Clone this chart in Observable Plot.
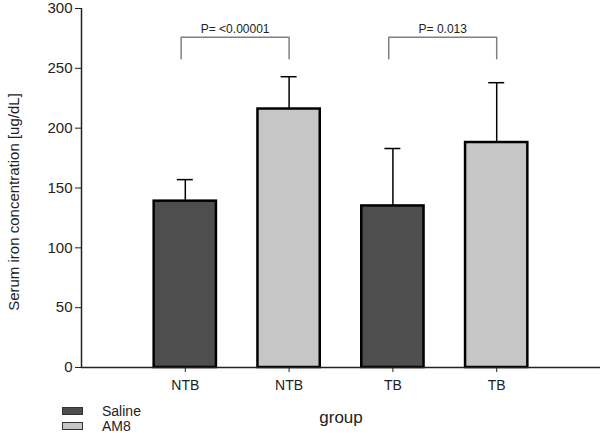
<!DOCTYPE html>
<html><head><meta charset="utf-8">
<script src="https://cdn.jsdelivr.net/npm/d3@7"></script>
<script src="https://cdn.jsdelivr.net/npm/@observablehq/plot@0.6"></script>
<style>
body{margin:0;background:#fff;font-family:"Liberation Sans",Arial,sans-serif}
#wrap{position:relative;width:600px;height:433px;overflow:hidden}
.lg{position:absolute;left:62px;display:flex;align-items:center;font-size:14px;color:#222;line-height:14px;height:14px}
.sw{width:19px;height:6px;border:1px solid #333;margin-right:19px}
</style></head><body><div id="wrap"></div>
<script>
const groups = ["NTB", "NTB", "TB", "TB"];
const treatments = ["Saline", "AM8", "Saline", "AM8"];
const means = [139, 216, 135, 188];
const upper = [157, 243, 183, 238];
const yTicks = [0, 50, 100, 150, 200, 250, 300];
const compFrom = [1, 3];
const compTo = [2, 4];
const compLabels = ["P= <0.00001", "P= 0.013"];
const bracketTop = [276, 276];
const bracketBottom = [258, 258];
const legendNames = ["Saline", "AM8"];
const colors = {Saline: "#4e4e4e", AM8: "#c6c6c6"};

const data = groups.map((g, i) => ({pos: i + 1, group: g, treatment: treatments[i], mean: means[i], upper: upper[i]}));
const bracketPts = [];
compFrom.forEach((f, i) => {
  const a = f - 0.04, b = compTo[i];
  bracketPts.push({c: i, x: a, y: bracketBottom[i]}, {c: i, x: a, y: bracketTop[i]},
                  {c: i, x: b, y: bracketTop[i]}, {c: i, x: b, y: bracketBottom[i]});
});
const comps = compLabels.map((l, i) => ({label: l, x: (compFrom[i] - 0.04 + compTo[i]) / 2, y: bracketTop[i] + 7}));

const chart = Plot.plot({
  width: 600, height: 433,
  marginLeft: 81, marginRight: 0, marginTop: 8, marginBottom: 66,
  style: {fontFamily: "Liberation Sans, Arial, sans-serif", color: "#222", background: "white"},
  x: {domain: [0, 5]},
  y: {domain: [0, 300]},
  marks: [
    Plot.rect(data, {x1: d => d.pos - 0.3, x2: d => d.pos + 0.3, y1: 0, y2: "mean",
      fill: d => colors[d.treatment], stroke: "black", strokeWidth: 2.5}),
    Plot.ruleX(data, {x: "pos", y1: "mean", y2: "upper", stroke: "black", strokeWidth: 1.5}),
    Plot.ruleY(data, {y: "upper", x1: d => d.pos - 0.077, x2: d => d.pos + 0.077, stroke: "black", strokeWidth: 1.5}),
    Plot.line(bracketPts, {x: "x", y: "y", z: "c", stroke: "#808080", strokeWidth: 1.5, strokeLinejoin: "round"}),
    Plot.text(comps, {x: "x", y: "y", text: "label", fontSize: 12, fill: "#222"}),
    Plot.ruleY([0], {stroke: "#222", strokeWidth: 1.5}),
    Plot.ruleX([0], {y1: 0, y2: 300, stroke: "#222", strokeWidth: 1.5}),
    Plot.axisY({ticks: yTicks, tickSize: 6, tickPadding: 3, label: null, fontSize: 15, stroke: "#222"}),
    Plot.axisX([1, 2, 3, 4], {tickFormat: i => groups[i - 1], tickSize: 5, tickPadding: 8, label: null, fontSize: 14}),
    Plot.text(["group"], {frameAnchor: "bottom", dy: 50, lineAnchor: "middle", fontSize: 17}),
    Plot.text(["Serum iron concentration [ug/dL]"], {frameAnchor: "left", dx: -67, dy: 14, rotate: -90,
      textAnchor: "middle", lineAnchor: "middle", fontSize: 15})
  ]
});
const wrap = document.getElementById("wrap");
wrap.appendChild(chart);
legendNames.forEach((n, i) => {
  const d = document.createElement("div");
  d.className = "lg";
  d.style.top = (404 + i * 15) + "px";
  d.innerHTML = `<span class="sw" style="background:${colors[n]}"></span><span>${n}</span>`;
  wrap.appendChild(d);
});
</script>
</body></html>
